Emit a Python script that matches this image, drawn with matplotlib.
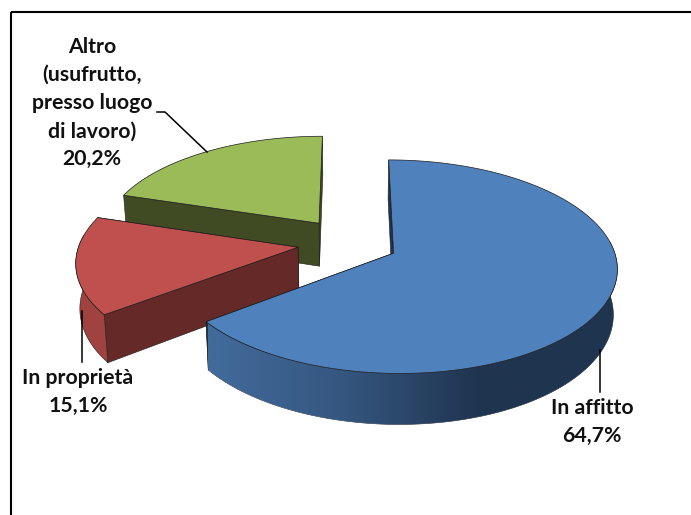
import numpy as np
import matplotlib
matplotlib.use("Agg")
import matplotlib.pyplot as plt
from matplotlib.colors import LinearSegmentedColormap
from matplotlib.patches import Polygon

# shares in percent, clockwise from 12 o'clock
labels = ["In affitto", "In proprietà", "Altro\n(usufrutto,\npresso luogo\ndi lavoro)"]
shares = [64.7, 15.1, 20.2]
top_colors = ["#4F81BD", "#C0504D", "#9BBB59"]
wall_colors = ["#1F344F", "#652A28", "#404B23"]
outer_colors = [None, "#A04340", "#404B23"]
explode = [0.22, 0.24, 0.245]

# pie geometry, in pixels
cx, cy = 350.0, 243.0
rx, ry = 218.5, 102.5
persp = 0.125
depth = 44.0
shrink = 0.985

# side of the big slice darkens from left to right
side_cmap = LinearSegmentedColormap.from_list(
    "side", [(0.0, "#426B9C"), (0.33, "#35567F"), (0.66, "#1F344F"), (1.0, "#1F344F")])


def project(X, Y, bottom=False):
    s = 1.0 / (1.0 + persp * np.asarray(Y))
    if bottom:
        return cx + rx * np.asarray(X) * s * shrink, cy - ry * np.asarray(Y) * s + depth * s
    return cx + rx * np.asarray(X) * s, cy - ry * np.asarray(Y) * s


fig = plt.figure(figsize=(6.91, 5.15), dpi=100)
ax = fig.add_axes([0, 0, 1, 1])
ax.axis("off")

# outer frame, runs off the right and bottom edges
ax.plot([11.5, 11.5], [530, 12.3], color="black", lw=1.5, solid_capstyle="butt", zorder=1)
ax.plot([11, 700], [12.3, 12.3], color="black", lw=1.5, solid_capstyle="butt", zorder=1)

edges = np.cumsum([0] + shares) / 100 * 2 * np.pi
edge_col = "#1a1a1a"
# back slices first so the nearer ones cover them
order = [2, 1, 0]
z = 2
for i in order:
    a0, a1 = edges[i], edges[i + 1]
    mid = (a0 + a1) / 2
    ox, oy = explode[i] * np.sin(mid), explode[i] * np.cos(mid)
    t = np.linspace(a0, a1, 240)
    X = ox + np.sin(t)
    Y = oy + np.cos(t)

    # radial walls, farther one first
    for a in sorted((a0, a1), key=lambda v: -np.cos(v)):
        ex, ey = ox + np.sin(a), oy + np.cos(a)
        px, py = project([ox, ex], [oy, ey])
        qx, qy = project([ox, ex], [oy, ey], bottom=True)
        wall = np.column_stack([[px[0], px[1], qx[1], qx[0]], [py[0], py[1], qy[1], qy[0]]])
        ax.add_patch(Polygon(wall, closed=True, fc=wall_colors[i], ec=edge_col, lw=0.4, zorder=z))
        z += 1

    # curved wall
    tx, ty = project(X, Y)
    bx, by = project(X, Y, bottom=True)
    front = np.cos(t) <= 0.12
    outer = np.column_stack([np.r_[tx[front], bx[front][::-1]], np.r_[ty[front], by[front][::-1]]])
    if i == 0:
        clip = Polygon(outer, closed=True, fc="none", ec=edge_col, lw=0.4, zorder=z, transform=ax.transData)
        ax.add_patch(clip)
        grad = ax.imshow(np.linspace(0, 1, 256)[None, :], cmap=side_cmap, extent=(208, 620, 440, 260),
                         aspect="auto", interpolation="bilinear", zorder=z)
        grad.set_clip_path(clip)
    else:
        ax.add_patch(Polygon(outer, closed=True, fc=outer_colors[i], ec=edge_col, lw=0.4, zorder=z))
    z += 1

    # top face
    ax_, ay_ = project([ox], [oy])
    top = np.column_stack([np.r_[ax_, tx], np.r_[ay_, ty]])
    ax.add_patch(Polygon(top, closed=True, fc=top_colors[i], ec=edge_col, lw=0.5, zorder=z))
    z += 1

ax.set_xlim(0, 691)
ax.set_ylim(515, 0)

# leader lines
ax.plot([157, 165, 207], [112, 112, 152], color="black", lw=1.1, zorder=z)
ax.plot([81.7, 81.7], [311, 362], color="black", lw=1.1, zorder=z)
ax.plot([600, 600], [350, 392], color="black", lw=1.1, zorder=z)

label_pos = [(592, 422), (78, 392), (92, 103)]
for lab, val, (lx, ly) in zip(labels, shares, label_pos):
    txt = lab + "\n" + f"{val:.1f}".replace(".", ",") + "%"
    ax.text(lx, ly, txt, ha="center", va="center", family="Lato", weight="bold",
            fontsize=15.3, color="#111111", linespacing=1.51, zorder=z)

fig.savefig("out.png", dpi=100)
